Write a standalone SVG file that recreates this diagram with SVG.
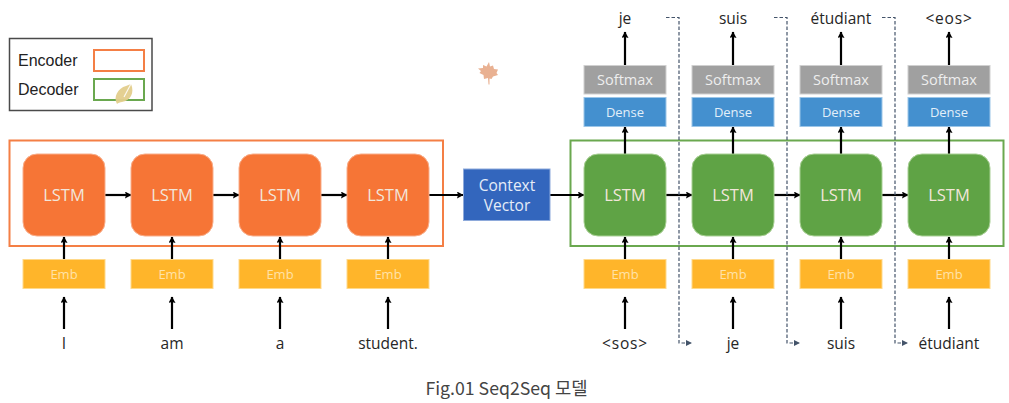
<svg xmlns="http://www.w3.org/2000/svg" width="1009" height="403" viewBox="0 0 1009 403">
<defs>
<marker id="ah" markerUnits="userSpaceOnUse" markerWidth="7" markerHeight="7" refX="6" refY="3.5" orient="auto"><path d="M0 0L6.500 3.500L0 7L1 3.500Z" fill="#000"/></marker>
<marker id="dh" markerUnits="userSpaceOnUse" markerWidth="7" markerHeight="7" refX="6" refY="3" orient="auto"><path d="M0 0L6 3L0 6Z" fill="#44546a"/></marker>
</defs>
<style>
text{font-family:"Open Sans","Noto Sans",sans-serif;text-anchor:middle}
.lstm{font-size:16.5px;fill:#f2e6da}
.lg{fill:#5fa345;stroke:#a9d095;stroke-width:1}
.lo{fill:#f67536;stroke:#f9ae8a;stroke-width:1}
.emb{fill:#ffb52a;stroke:#ffd98a;stroke-width:1}
.embt{font-size:13px;fill:#ffe2a8}
.sm{fill:#a0a0a0;stroke:#d0d0d0;stroke-width:1}
.smt{font-size:14.5px;fill:#eeeeee}
.de{fill:#4490cf;stroke:#9cc6e8;stroke-width:1}
.det{font-size:13px;fill:#e2eff9}
.word{font-size:15.5px;fill:#262626}
.tag{letter-spacing:.8px}
.leg{font-family:"Liberation Sans",Arial,sans-serif;font-size:16px;fill:#222;text-anchor:start}
.c{stroke:#000;stroke-width:2.200;fill:none;marker-end:url(#ah)}
.d{stroke:#44546a;stroke-width:1.200;stroke-dasharray:3.500 2;fill:none;marker-end:url(#dh)}
</style>
<g id="legend">
<rect x="9.500" y="38.500" width="142.500" height="72" fill="#fff" stroke="#4a4a4a" stroke-width="1.500"/>
<text class="leg" x="18" y="66">Encoder</text>
<text class="leg" x="18" y="95">Decoder</text>
<rect x="94" y="50" width="50" height="21" fill="none" stroke="#f47f45" stroke-width="2"/>
<rect x="94" y="79" width="50" height="21" fill="none" stroke="#6aa84f" stroke-width="2"/>
<path d="M117 104C113 97 118 88 126 86L131 84C135 93 130 101 122 102C120 102 118 103 117 104Z" fill="#e3cd8c" opacity="0.95"/>
<path d="M124 97L132 82" stroke="#fff" stroke-width="1.200" fill="none" opacity="0.85"/>
</g>
<path id="maple" d="M489 62L490 66.500L493 65.500L494 69L498 69.500L496.500 73L498 75L493 76.500L491.500 79L489.500 78.500L489.500 84.500L488.500 84.500L488 78L484 79L483.500 75L479.500 73L481 71L478 68.500L483 68L483 65L486.500 66.500Z" fill="#e9b192"/>
<g id="encoder-frame"><rect x="9.500" y="140.500" width="433.500" height="105.500" fill="none" stroke="#f47f45" stroke-width="2"/></g>
<g id="decoder-frame"><rect x="570.500" y="140.500" width="433" height="105.500" fill="none" stroke="#6aa84f" stroke-width="2"/></g>

<g id="connectors">
<path class="c" d="M105 195H131"/><path class="c" d="M213 195H239"/><path class="c" d="M321 195H347"/><path class="c" d="M429 195H463"/><path class="c" d="M550 195H584"/><path class="c" d="M666 195H692"/><path class="c" d="M774 195H800"/><path class="c" d="M882 195H908"/>
<path class="c" d="M64 260V237"/><path class="c" d="M172 260V237"/><path class="c" d="M280 260V237"/><path class="c" d="M388 260V237"/><path class="c" d="M625 260V237"/><path class="c" d="M733 260V237"/><path class="c" d="M841 260V237"/><path class="c" d="M949 260V237"/>
<path class="c" d="M64 329V297"/><path class="c" d="M172 329V297"/><path class="c" d="M280 329V297"/><path class="c" d="M388 329V297"/><path class="c" d="M625 329V297"/><path class="c" d="M733 329V297"/><path class="c" d="M841 329V297"/><path class="c" d="M949 329V297"/>
<path class="c" d="M625 154V127"/><path class="c" d="M733 154V127"/><path class="c" d="M841 154V127"/><path class="c" d="M949 154V127"/>
<path class="c" d="M625 65V32"/><path class="c" d="M733 65V32"/><path class="c" d="M841 65V32"/><path class="c" d="M949 65V32"/>
<path class="d" d="M666 17.500H679V343H692"/><path class="d" d="M774 17.500H787V343H800"/><path class="d" d="M882 17.500H895V343H908"/>
</g>

<g id="enc1"><rect class="lo" x="23" y="154" width="82" height="82" rx="14"/><text class="lstm" x="64" y="201">LSTM</text></g>
<g id="enc2"><rect class="lo" x="131" y="154" width="82" height="82" rx="14"/><text class="lstm" x="172" y="201">LSTM</text></g>
<g id="enc3"><rect class="lo" x="239" y="154" width="82" height="82" rx="14"/><text class="lstm" x="280" y="201">LSTM</text></g>
<g id="enc4"><rect class="lo" x="347" y="154" width="82" height="82" rx="14"/><text class="lstm" x="388" y="201">LSTM</text></g>
<g id="dec1"><rect class="lg" x="584" y="154" width="82" height="82" rx="14"/><text class="lstm" x="625" y="201">LSTM</text></g>
<g id="dec2"><rect class="lg" x="692" y="154" width="82" height="82" rx="14"/><text class="lstm" x="733" y="201">LSTM</text></g>
<g id="dec3"><rect class="lg" x="800" y="154" width="82" height="82" rx="14"/><text class="lstm" x="841" y="201">LSTM</text></g>
<g id="dec4"><rect class="lg" x="908" y="154" width="82" height="82" rx="14"/><text class="lstm" x="949" y="201">LSTM</text></g>

<g id="context"><rect x="463.500" y="169" width="86.500" height="51.500" fill="#3366bd" stroke="#8eaadb" stroke-width="1"/><text x="507" y="190.500" font-size="15.500" fill="#e6edf8">Context</text><text x="507" y="210.500" font-size="15.500" fill="#e6edf8">Vector</text></g>

<g id="emb1"><rect class="emb" x="23" y="259.500" width="82" height="29"/><text class="embt" x="64" y="279">Emb</text></g>
<g id="emb2"><rect class="emb" x="131" y="259.500" width="82" height="29"/><text class="embt" x="172" y="279">Emb</text></g>
<g id="emb3"><rect class="emb" x="239" y="259.500" width="82" height="29"/><text class="embt" x="280" y="279">Emb</text></g>
<g id="emb4"><rect class="emb" x="347" y="259.500" width="82" height="29"/><text class="embt" x="388" y="279">Emb</text></g>
<g id="emb5"><rect class="emb" x="584" y="259.500" width="82" height="29"/><text class="embt" x="625" y="279">Emb</text></g>
<g id="emb6"><rect class="emb" x="692" y="259.500" width="82" height="29"/><text class="embt" x="733" y="279">Emb</text></g>
<g id="emb7"><rect class="emb" x="800" y="259.500" width="82" height="29"/><text class="embt" x="841" y="279">Emb</text></g>
<g id="emb8"><rect class="emb" x="908" y="259.500" width="82" height="29"/><text class="embt" x="949" y="279">Emb</text></g>

<g id="dense1"><rect class="de" x="584" y="97.500" width="82" height="29"/><text class="det" x="625" y="117">Dense</text></g>
<g id="dense2"><rect class="de" x="692" y="97.500" width="82" height="29"/><text class="det" x="733" y="117">Dense</text></g>
<g id="dense3"><rect class="de" x="800" y="97.500" width="82" height="29"/><text class="det" x="841" y="117">Dense</text></g>
<g id="dense4"><rect class="de" x="908" y="97.500" width="82" height="29"/><text class="det" x="949" y="117">Dense</text></g>
<g id="softmax1"><rect class="sm" x="584" y="65.500" width="82" height="28.500"/><text class="smt" x="625" y="85">Softmax</text></g>
<g id="softmax2"><rect class="sm" x="692" y="65.500" width="82" height="28.500"/><text class="smt" x="733" y="85">Softmax</text></g>
<g id="softmax3"><rect class="sm" x="800" y="65.500" width="82" height="28.500"/><text class="smt" x="841" y="85">Softmax</text></g>
<g id="softmax4"><rect class="sm" x="908" y="65.500" width="82" height="28.500"/><text class="smt" x="949" y="85">Softmax</text></g>

<g id="words">
<text class="word" x="64" y="349">I</text><text class="word" x="172" y="349">am</text><text class="word" x="280" y="349">a</text><text class="word" x="388" y="349">student.</text>
<text class="word tag" x="625" y="349">&lt;sos&gt;</text><text class="word" x="733" y="349">je</text><text class="word" x="841" y="349">suis</text><text class="word" x="949" y="349">étudiant</text>
<text class="word" x="625" y="24">je</text><text class="word" x="733" y="24">suis</text><text class="word" x="841" y="24">étudiant</text><text class="word tag" x="949" y="24">&lt;eos&gt;</text>
</g>
<text id="caption" x="506.500" y="395" font-size="17.700" fill="#444" style="font-family:'Noto Sans CJK KR','Noto Sans',sans-serif">Fig.01 Seq2Seq 모델</text>
</svg>
